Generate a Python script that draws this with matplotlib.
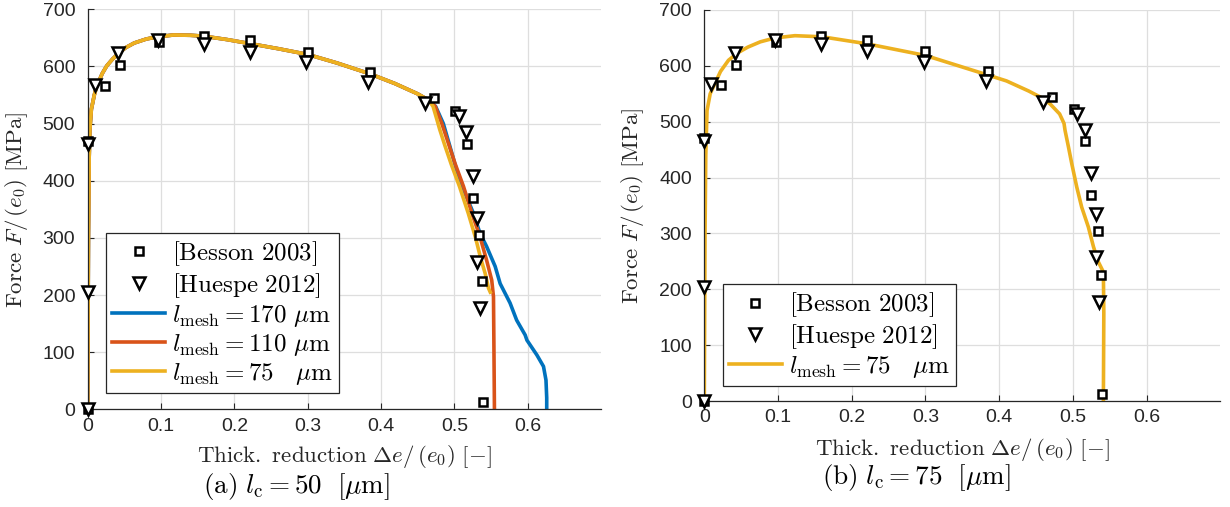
import matplotlib
matplotlib.use("Agg")
import matplotlib.pyplot as plt

plt.rcParams['mathtext.fontset'] = 'cm'
plt.rcParams['font.family'] = ['Liberation Sans', 'DejaVu Sans']

# experimental reference points (thickness reduction [-], force [MPa])
besson_x = [0, 0, 0.023, 0.0436, 0.097, 0.158, 0.221, 0.300, 0.385, 0.4716,
            0.501, 0.517, 0.525, 0.534, 0.538, 0.539]
besson_F = [0, 470, 566, 602, 642, 653, 646, 626, 591, 544,
            522, 465, 369, 305, 225, 13]

huespe_x = [0, 0, 0, 0.0097, 0.042, 0.096, 0.158, 0.221, 0.298, 0.382,
            0.460, 0.506, 0.516, 0.525, 0.531, 0.531, 0.535]
huespe_F = [0, 205, 465, 568, 623, 646, 640, 626, 607, 573,
            536, 513, 486, 408, 335, 258, 178]

# shared hardening part of the simulations (l_c = 50 um)
common_x = [0, 0.001, 0.002, 0.003, 0.005, 0.009, 0.0124, 0.02, 0.026, 0.034,
            0.042, 0.052, 0.0635, 0.08, 0.0958, 0.117, 0.14, 0.158, 0.19, 0.221,
            0.26, 0.30, 0.34, 0.385, 0.419, 0.45, 0.465]
common_F = [0, 300, 440, 490, 525, 550, 566, 588, 601, 613,
            623, 633, 641, 648, 652, 655, 654.5, 653, 647, 640,
            631, 621, 606, 587, 570, 552, 541]

# softening branches, l_c = 50 um
m170_x = [0.4745, 0.485, 0.494, 0.503, 0.5147, 0.526, 0.535, 0.544, 0.5557,
          0.5625, 0.576, 0.585, 0.5966, 0.599, 0.6126, 0.6216, 0.625, 0.626, 0.626]
m170_F = [530, 500, 460, 419, 378, 343, 308, 285, 250,
          220, 186, 156, 130, 121, 95, 75, 51, 20, 0]

m110_x = [0.474, 0.483, 0.492, 0.501, 0.5125, 0.524, 0.535, 0.544, 0.551,
          0.5534, 0.554, 0.5547]
m110_F = [530, 500, 465, 430, 390, 343, 302, 261, 226,
          197, 110, 0]

m75_x = [0.471, 0.476, 0.480, 0.487, 0.496, 0.507, 0.519, 0.529, 0.536,
         0.542, 0.5466, 0.549]
m75_F = [530, 508, 490, 462, 428, 390, 343, 300, 264,
         238, 212, 205]

# l_c = 75 um, l_mesh = 75 um
b75_x = [0, 0.001, 0.002, 0.0037, 0.008, 0.0143, 0.022, 0.0328, 0.045, 0.059,
         0.076, 0.096, 0.123, 0.16, 0.2206, 0.30, 0.382, 0.41, 0.44, 0.456,
         0.469, 0.482, 0.488, 0.4894, 0.494, 0.4985, 0.5053, 0.512, 0.521, 0.528,
         0.5346, 0.5414, 0.542, 0.5414]
b75_F = [0, 300, 440, 520, 550, 568, 590, 610, 623, 633.5,
         643, 650, 654, 652, 639.5, 618.6, 584.7, 573, 555, 544,
         532, 514, 497, 484.5, 455, 425, 383, 347, 311.6, 276,
         249, 231, 157, 0]

xticks = [0, 0.1, 0.2, 0.3, 0.4, 0.5, 0.6]
yticks = [0, 100, 200, 300, 400, 500, 600, 700]

BLUE = (0, 0.447, 0.741)
ORANGE = (0.85, 0.325, 0.098)
YELLOW = (0.929, 0.694, 0.125)
AXC = '#262626'

fig = plt.figure(figsize=(12.3, 5.07), dpi=100)
ax_a = fig.add_axes([0.0713, 0.1927, 0.4173, 0.789])
ax_b = fig.add_axes([0.5726, 0.209, 0.4195, 0.7713])


def style_axes(ax):
    ax.set_xlim(0, 0.7)
    ax.set_ylim(0, 700)
    ax.set_xticks(xticks)
    ax.set_xticklabels(['0', '0.1', '0.2', '0.3', '0.4', '0.5', '0.6'])
    ax.set_yticks(yticks)
    ax.grid(True, color='#dedede', lw=0.9)
    ax.set_axisbelow(True)
    for s in ['top', 'right']:
        ax.spines[s].set_visible(False)
    for s in ['left', 'bottom']:
        ax.spines[s].set_color(AXC)
        ax.spines[s].set_linewidth(0.9)
    ax.tick_params(direction='in', length=4, width=0.8, colors=AXC, labelsize=14)
    ax.tick_params(axis='x', pad=6)
    ax.tick_params(axis='y', pad=9)
    ax.set_xlabel(r'$\mathrm{Thick.\ reduction}\ \Delta e/\,(e_0)\ [-]$',
                  fontsize=16.5, color=AXC)
    ax.set_ylabel(r'$\mathrm{Force}\ F/\,(e_0)\ [\mathrm{MPa}]$',
                  fontsize=16.5, color=AXC)
    ax.yaxis.set_label_coords(-0.113, 0.5)


def plot_points(ax):
    ax.plot(besson_x, besson_F, 's', ms=5.5, mew=1.8, mfc='white', mec='black',
            ls='none', clip_on=False, zorder=4, label=r'$\mathrm{[Besson\ 2003]}$')
    ax.plot(huespe_x, huespe_F, 'v', ms=8, mew=1.8, mfc='white', mec='black',
            ls='none', clip_on=False, zorder=4, label=r'$\mathrm{[Huespe\ 2012]}$')


# (a) l_c = 50 um
style_axes(ax_a)
plot_points(ax_a)
ax_a.plot(common_x + m170_x, common_F + m170_F, color=BLUE, lw=2.6,
          label=r'$l_\mathrm{mesh} = 170\ \mu\mathrm{m}$')
ax_a.plot(common_x + m110_x, common_F + m110_F, color=ORANGE, lw=2.6,
          label=r'$l_\mathrm{mesh} = 110\ \mu\mathrm{m}$')
ax_a.plot(common_x + m75_x, common_F + m75_F, color=YELLOW, lw=2.6,
          label=r'$l_\mathrm{mesh} = 75\ \ \ \mu\mathrm{m}$')
ax_a.xaxis.set_label_coords(0.5, -0.085)
ax_a.text(0.406, -0.194, r'$\mathrm{(a)}\ l_\mathrm{c} = 50\ \ [\mu\mathrm{m}]$',
          transform=ax_a.transAxes, ha='center', va='center', fontsize=19.5)

leg = ax_a.legend(loc='lower left', bbox_to_anchor=(0.036, 0.041), borderaxespad=0,
                  fontsize=18, handlelength=2.1, handletextpad=0.3,
                  labelspacing=0.12, borderpad=0.25, fancybox=False, framealpha=1)
leg.get_frame().set_edgecolor(AXC)
leg.get_frame().set_linewidth(0.9)

# (b) l_c = 75 um
style_axes(ax_b)
plot_points(ax_b)
ax_b.plot(b75_x, b75_F, color=YELLOW, lw=2.6,
          label=r'$l_\mathrm{mesh} = 75\ \ \ \mu\mathrm{m}$')
ax_b.xaxis.set_label_coords(0.5, -0.09)
ax_b.text(0.41, -0.195, r'$\mathrm{(b)}\ l_\mathrm{c} = 75\ \ [\mu\mathrm{m}]$',
          transform=ax_b.transAxes, ha='center', va='center', fontsize=19.5)

leg = ax_b.legend(loc='lower left', bbox_to_anchor=(0.036, 0.038), borderaxespad=0,
                  fontsize=18, handlelength=2.1, handletextpad=0.3,
                  labelspacing=0.12, borderpad=0.25, fancybox=False, framealpha=1)
leg.get_frame().set_edgecolor(AXC)
leg.get_frame().set_linewidth(0.9)

fig.savefig('out.png', dpi=100)
